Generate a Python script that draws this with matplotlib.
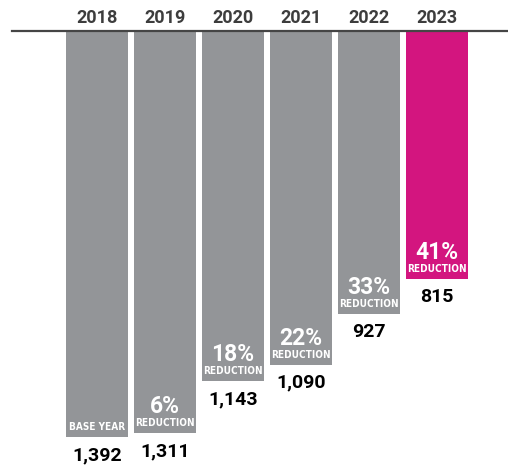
import matplotlib.pyplot as plt
from matplotlib.transforms import blended_transform_factory

years = ["2018", "2019", "2020", "2021", "2022", "2023"]
values = [1392, 1311, 1143, 1090, 927, 815]
value_labels = ["1,392", "1,311", "1,143", "1,090", "927", "815"]
pct_labels = ["", "6%", "18%", "22%", "33%", "41%"]
sub_labels = ["BASE YEAR", "REDUCTION", "REDUCTION", "REDUCTION", "REDUCTION", "REDUCTION"]

GRAY = "#939598"
PINK = "#d3157f"
DARK = "#3d3d3d"


def main():
    fig = plt.figure(figsize=(5.08, 4.65), dpi=100)
    W, H = 508, 465
    ax = fig.add_axes([12 / W, 1 - 437 / H, 496 / W, 406 / H])

    colors = [GRAY] * (len(years) - 1) + [PINK]
    x = list(range(len(years)))
    ax.bar(x, values, width=0.91, color=colors, zorder=1)

    ylim_bottom = 1323
    ax.set_xlim(-1.25, 6.044)
    ax.set_ylim(ylim_bottom, 18)

    for s in ["left", "right", "bottom"]:
        ax.spines[s].set_visible(False)
    ax.spines["top"].set_color("#454545")
    ax.spines["top"].set_linewidth(1.6)
    ax.set_xticks([])
    ax.set_yticks([])

    trans = blended_transform_factory(ax.transData, ax.transAxes)
    for i, yr in enumerate(years):
        ax.annotate(yr, xy=(i, 1), xycoords=trans, xytext=(0, 8),
                    textcoords="offset pixels", ha="center", va="baseline",
                    fontsize=13, fontweight="bold", family="Roboto",
                    color=DARK, annotation_clip=False)

    for i, v in enumerate(values):
        end = min(v, ylim_bottom)
        ax.annotate(value_labels[i], xy=(i, end), xytext=(0, -23),
                    textcoords="offset pixels", ha="center", va="baseline",
                    fontsize=14, fontweight="bold", family="Roboto",
                    color="black", annotation_clip=False)
        ax.annotate(sub_labels[i], xy=(i, end), xytext=(0, 7),
                    textcoords="offset pixels", ha="center", va="baseline",
                    fontsize=7.2, fontweight="bold", family="DejaVu Sans",
                    fontstretch="condensed", color="white",
                    annotation_clip=False)
        if pct_labels[i]:
            ax.annotate(pct_labels[i], xy=(i, end), xytext=(0, 20),
                        textcoords="offset pixels", ha="center", va="baseline",
                        fontsize=16.5, fontweight="bold", family="Roboto",
                        color="white", annotation_clip=False)

    fig.savefig("out.png", dpi=100)


if __name__ == '__main__':
    main()
